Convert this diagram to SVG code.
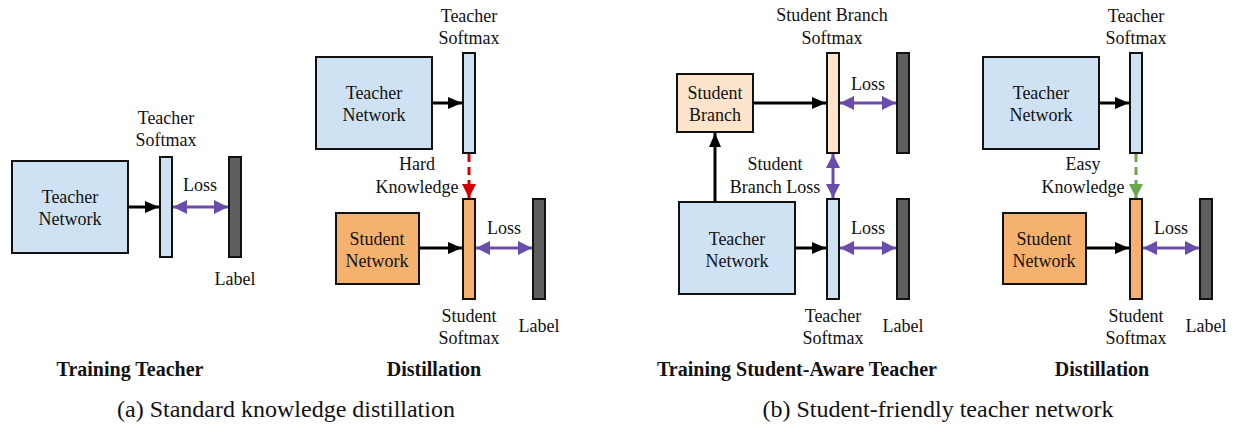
<svg xmlns="http://www.w3.org/2000/svg" width="1233" height="426" viewBox="0 0 1233 426">
<defs>
<style>
.t{font-family:"Liberation Serif","Times New Roman",serif;font-size:18px;fill:#111;text-anchor:middle}
.b{font-family:"Liberation Serif","Times New Roman",serif;font-size:20px;font-weight:bold;fill:#111;text-anchor:middle}
.c{font-family:"Liberation Serif","Times New Roman",serif;font-size:24px;fill:#111;text-anchor:middle}
.box{stroke:#111;stroke-width:2}
.tb{fill:#CFE2F3}
.sb{fill:#F4B26E}
.pb{fill:#FCE4CD}
.lb{fill:#5F5F5F}
.blk{stroke:#000;stroke-width:3;fill:none;marker-end:url(#ab)}
.pur{stroke:#6A4DAA;stroke-width:3;fill:none;marker-start:url(#ap);marker-end:url(#ap)}
.red{stroke:#D40000;stroke-width:3;fill:none;stroke-dasharray:8 5;marker-end:url(#ar)}
.grn{stroke:#6AA84F;stroke-width:3;fill:none;stroke-dasharray:8 5;marker-end:url(#ag)}
</style>
<marker id="ab" markerUnits="userSpaceOnUse" markerWidth="14" markerHeight="12" refX="14" refY="6" orient="auto"><path d="M0,0 L14,6 L0,12 z" fill="#000"/></marker>
<marker id="ap" markerUnits="userSpaceOnUse" markerWidth="14" markerHeight="14" refX="14" refY="7" orient="auto-start-reverse"><path d="M0,0 L14,7 L0,14 z" fill="#6A4DAA"/></marker>
<marker id="ar" markerUnits="userSpaceOnUse" markerWidth="14" markerHeight="14" refX="14" refY="7" orient="auto"><path d="M0,0 L14,7 L0,14 z" fill="#D40000"/></marker>
<marker id="ag" markerUnits="userSpaceOnUse" markerWidth="14" markerHeight="14" refX="14" refY="7" orient="auto"><path d="M0,0 L14,7 L0,14 z" fill="#6AA84F"/></marker>
</defs>
<rect width="1233" height="426" fill="#fff"/>

<!-- Panel 1: Training Teacher -->
<g id="p1-teacher-network"><rect class="box tb" x="12" y="161" width="116" height="92"/><text class="t" x="70" y="203">Teacher</text><text class="t" x="70" y="225">Network</text></g>
<g id="p1-teacher-softmax"><rect class="box tb" x="160" y="157" width="12" height="100"/><text class="t" x="166" y="124">Teacher</text><text class="t" x="166" y="146">Softmax</text></g>
<g id="p1-label"><rect class="box lb" x="229" y="157" width="12" height="100"/><text class="t" x="235" y="285">Label</text></g>

<!-- Panel 2: Distillation -->
<g id="p2-teacher-network"><rect class="box tb" x="316" y="57" width="116" height="92"/><text class="t" x="374" y="99">Teacher</text><text class="t" x="374" y="121">Network</text></g>
<g id="p2-teacher-softmax"><rect class="box tb" x="463" y="53" width="12" height="100"/><text class="t" x="469" y="22">Teacher</text><text class="t" x="469" y="44">Softmax</text></g>
<g id="p2-student-network"><rect class="box sb" x="336" y="213" width="83" height="71"/><text class="t" x="377" y="245">Student</text><text class="t" x="377" y="267">Network</text></g>
<g id="p2-student-softmax"><rect class="box sb" x="463" y="199" width="12" height="100"/><text class="t" x="469" y="322">Student</text><text class="t" x="469" y="344">Softmax</text></g>
<g id="p2-label"><rect class="box lb" x="533" y="199" width="12" height="100"/><text class="t" x="539" y="332">Label</text></g>

<!-- Panel 3: Training Student-Aware Teacher -->
<g id="p3-student-branch"><rect class="box pb" x="677" y="74" width="76" height="58"/><text class="t" x="715" y="99">Student</text><text class="t" x="715" y="121">Branch</text></g>
<g id="p3-branch-softmax"><rect class="box pb" x="827" y="53" width="12" height="100"/><text class="t" x="832" y="21">Student Branch</text><text class="t" x="832" y="44">Softmax</text></g>
<g id="p3-label-top"><rect class="box lb" x="897" y="53" width="12" height="100"/></g>
<g id="p3-teacher-network"><rect class="box tb" x="679" y="202" width="116" height="92"/><text class="t" x="737" y="245">Teacher</text><text class="t" x="737" y="267">Network</text></g>
<g id="p3-teacher-softmax"><rect class="box tb" x="827" y="199" width="12" height="100"/><text class="t" x="833" y="322">Teacher</text><text class="t" x="833" y="344">Softmax</text></g>
<g id="p3-label-bottom"><rect class="box lb" x="897" y="199" width="12" height="100"/><text class="t" x="903" y="332">Label</text></g>

<!-- Panel 4: Distillation -->
<g id="p4-teacher-network"><rect class="box tb" x="983" y="57" width="116" height="92"/><text class="t" x="1041" y="99">Teacher</text><text class="t" x="1041" y="121">Network</text></g>
<g id="p4-teacher-softmax"><rect class="box tb" x="1130" y="53" width="12" height="100"/><text class="t" x="1136" y="22">Teacher</text><text class="t" x="1136" y="44">Softmax</text></g>
<g id="p4-student-network"><rect class="box sb" x="1003" y="213" width="83" height="71"/><text class="t" x="1044" y="245">Student</text><text class="t" x="1044" y="267">Network</text></g>
<g id="p4-student-softmax"><rect class="box sb" x="1130" y="199" width="12" height="100"/><text class="t" x="1136" y="322">Student</text><text class="t" x="1136" y="344">Softmax</text></g>
<g id="p4-label"><rect class="box lb" x="1200" y="199" width="12" height="100"/><text class="t" x="1206" y="332">Label</text></g>

<g id="connectors">
<line class="blk" x1="129" y1="207" x2="159" y2="207"/>
<line class="pur" x1="173" y1="207" x2="228" y2="207"/>
<line class="blk" x1="433" y1="103" x2="462" y2="103"/>
<line class="red" x1="469" y1="154" x2="469" y2="198"/>
<line class="blk" x1="420" y1="248" x2="462" y2="248"/>
<line class="pur" x1="476" y1="248" x2="532" y2="248"/>
<line class="blk" x1="754" y1="103" x2="826" y2="103"/>
<line class="pur" x1="840" y1="103" x2="896" y2="103"/>
<line class="blk" x1="715" y1="201" x2="715" y2="133"/>
<line class="pur" x1="833" y1="154" x2="833" y2="198"/>
<line class="blk" x1="796" y1="248" x2="826" y2="248"/>
<line class="pur" x1="840" y1="248" x2="896" y2="248"/>
<line class="blk" x1="1100" y1="103" x2="1129" y2="103"/>
<line class="grn" x1="1136" y1="154" x2="1136" y2="198"/>
<line class="blk" x1="1087" y1="248" x2="1129" y2="248"/>
<line class="pur" x1="1143" y1="248" x2="1199" y2="248"/>
</g>

<g id="connector-labels">
<text class="t" x="200" y="191">Loss</text>
<text class="t" x="417" y="170">Hard</text>
<text class="t" x="417" y="193">Knowledge</text>
<text class="t" x="504" y="234">Loss</text>
<text class="t" x="868" y="90">Loss</text>
<text class="t" x="775" y="170">Student</text>
<text class="t" x="775" y="193">Branch Loss</text>
<text class="t" x="868" y="234">Loss</text>
<text class="t" x="1083" y="170">Easy</text>
<text class="t" x="1083" y="193">Knowledge</text>
<text class="t" x="1171" y="234">Loss</text>
</g>

<g id="titles">
<text class="b" x="130" y="376">Training Teacher</text>
<text class="b" x="434" y="376">Distillation</text>
<text class="b" x="797" y="376">Training Student-Aware Teacher</text>
<text class="b" x="1102" y="376">Distillation</text>
<text class="c" x="286" y="417">(a) Standard knowledge distillation</text>
<text class="c" x="938" y="417">(b) Student-friendly teacher network</text>
</g>
</svg>
